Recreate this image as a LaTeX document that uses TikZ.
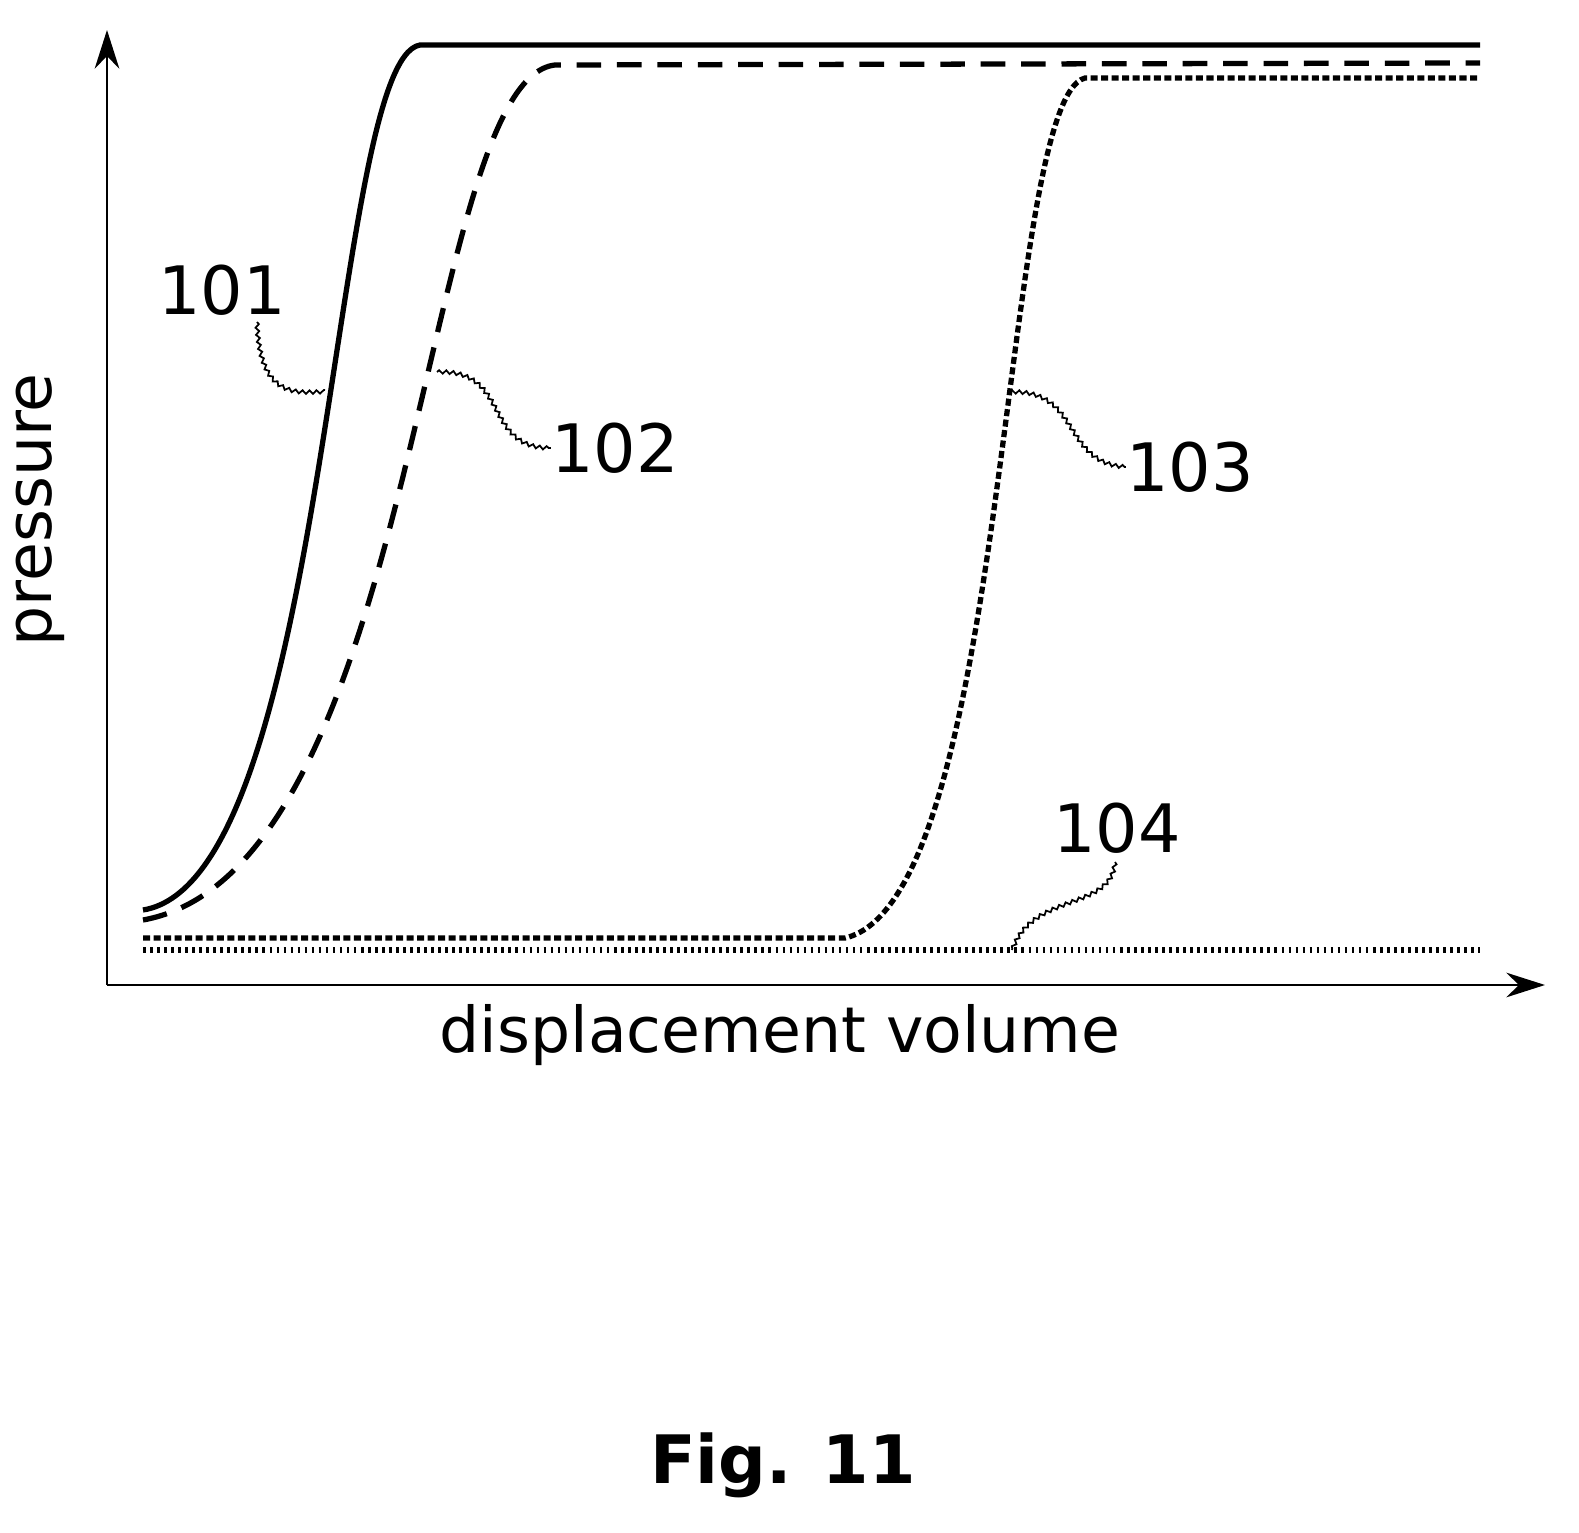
\documentclass[tikz,border=0pt]{standalone}
\usepackage{fontspec}
\setmainfont{DejaVu Sans}
\usetikzlibrary{arrows.meta,decorations.pathmorphing}
\tikzset{
  axis/.style={line width=1.6pt,-{Stealth[length=22pt,width=14pt]}},
  curve/.style={line width=3pt},
  leader/.style={line width=1pt,decorate,decoration={snake,amplitude=1pt,segment length=4pt}},
  lbl/.style={font=\fontsize{38}{40}\selectfont,inner sep=0pt}
}
\begin{document}
\begin{tikzpicture}[x=0.02cm,y=-0.02cm]
  \useasboundingbox (0,0) rectangle (1579,1533);
  \coordinate (O) at (107,985);
  \draw[axis] (O) -- (107,30);
  \draw[axis] (O) -- (1545,985);
  % curves
  \draw[curve] (143,910) .. controls (330,880) and (330,60) .. (420,45) -- (1480,45);
  \draw[curve,dash pattern=on 14pt off 9pt] (143,920) .. controls (420,870) and (420,80) .. (555,65) -- (1480,63);
  \draw[curve,dash pattern=on 4pt off 2pt] (143,938) -- (845,938) .. controls (1010,900) and (1000,100) .. (1085,78) -- (1480,78);
  \draw[curve,dash pattern=on 1.5pt off 2.5pt] (143,950) -- (1480,950);
  % labels
  \node[lbl] (l101) at (222,290) {101};
  \node[lbl] (l102) at (615,448) {102};
  \node[lbl] (l103) at (1190,467) {103};
  \node[lbl] (l104) at (1117,828) {104};
  \coordinate (p101) at (325,390);
  \coordinate (p102) at (437,372);
  \coordinate (p103) at (1010,392);
  \coordinate (p104) at (1012,950);
  \draw[leader] (257,322) .. controls (260,400) and (300,390) .. (p101);
  \draw[leader] (p102) .. controls (510,370) and (480,450) .. (l102.west);
  \draw[leader] (p103) .. controls (1080,390) and (1060,465) .. (l103.west);
  \draw[leader] (1115,862) .. controls (1110,910) and (1030,890) .. (p104);
  \node[lbl,rotate=90,font=\fontsize{36}{38}\selectfont] (ylab) at (40,510) {pressure};
  \node[lbl,font=\fontsize{36}{38}\selectfont] (xlab) at (780,1035) {displacement volume};
  \node[lbl,font=\bfseries\fontsize{38}{40}\selectfont] (fig) at (783,1465) {Fig. 11};
\end{tikzpicture}
\end{document}
